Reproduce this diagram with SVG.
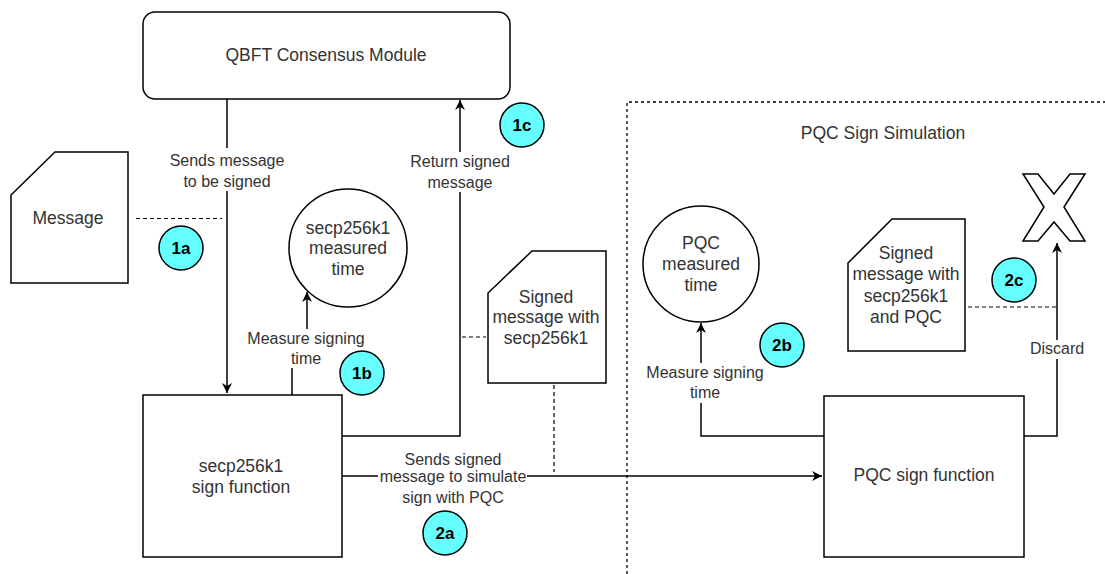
<svg xmlns="http://www.w3.org/2000/svg" width="1105" height="574" viewBox="0 0 1105 574">
  <defs>
    <marker id="arrow" markerUnits="userSpaceOnUse" markerWidth="12" markerHeight="10" refX="10" refY="5" orient="auto">
      <path d="M0,0 L10,5 L0,10 L3,5 z" fill="#000"/>
    </marker>
    <style>
      .shape { fill: #fff; stroke: #000; stroke-width: 1.5; }
      .edge { fill: none; stroke: #000; stroke-width: 1.5; }
      .dash { fill: none; stroke: #000; stroke-width: 1.2; stroke-dasharray: 4 3; }
      .group { fill: none; stroke: #000; stroke-width: 1.3; stroke-dasharray: 3 3; }
      .node { font-family: "Liberation Sans", Arial, sans-serif; font-size: 17.5px; fill: #333; text-anchor: middle; }
      .lbl { font-family: "Liberation Sans", Arial, sans-serif; font-size: 16px; fill: #333; text-anchor: middle; }
      .step circle { fill: #66ffff; stroke: #000; stroke-width: 1.5; }
      .step text { font-family: "Liberation Sans", Arial, sans-serif; font-size: 17px; font-weight: bold; fill: #000; text-anchor: middle; }
    </style>
  </defs>

  <rect width="1105" height="574" fill="#fff"/>

  <!-- PQC simulation container -->
  <g id="pqc-group">
    <path class="group" d="M627,574 V102 H1105"/>
    <text class="node" x="883" y="139">PQC Sign Simulation</text>
  </g>

  <!-- connectors -->
  <g id="connectors">
    <!-- QBFT -> secp256k1 sign -->
    <path class="edge" d="M227,99 V148"/>
    <path class="edge" d="M227,191 V393" marker-end="url(#arrow)"/>
    <text class="lbl" x="227" y="166">Sends message</text>
    <text class="lbl" x="227" y="187">to be signed</text>

    <!-- secp256k1 sign -> measured time -->
    <path class="edge" d="M292,395 V368"/>
    <path class="edge" d="M307,329 V292" marker-end="url(#arrow)"/>
    <text class="lbl" x="306" y="344">Measure signing</text>
    <text class="lbl" x="306" y="364">time</text>

    <!-- secp256k1 sign -> QBFT (return) -->
    <path class="edge" d="M342,436 H460 V192"/>
    <path class="edge" d="M460,152 V100" marker-end="url(#arrow)"/>
    <text class="lbl" x="460" y="167">Return signed</text>
    <text class="lbl" x="460" y="188">message</text>

    <!-- secp256k1 sign -> PQC sign -->
    <path class="edge" d="M342,476 H378"/>
    <path class="edge" d="M527,476 H822" marker-end="url(#arrow)"/>
    <text class="lbl" x="453" y="465">Sends signed</text>
    <text class="lbl" x="453" y="482">message to simulate</text>
    <text class="lbl" x="453" y="503">sign with PQC</text>

    <!-- PQC sign -> PQC measured time -->
    <path class="edge" d="M824,436 H701 V403"/>
    <path class="edge" d="M701,363 V323" marker-end="url(#arrow)"/>
    <text class="lbl" x="705" y="378">Measure signing</text>
    <text class="lbl" x="705" y="398">time</text>

    <!-- PQC sign -> discard -->
    <path class="edge" d="M1024,436 H1057 V359"/>
    <path class="edge" d="M1057,340 V243" marker-end="url(#arrow)"/>
    <text class="lbl" x="1057" y="354">Discard</text>

    <!-- annotation links -->
    <path class="dash" d="M136,218.5 H222"/>
    <path class="dash" d="M462,337 H486"/>
    <path class="dash" d="M554,385 V472"/>
    <path class="dash" d="M968,307 H1056"/>
  </g>

  <g id="qbft">
    <rect class="shape" x="143" y="12" width="367" height="87" rx="12"/>
    <text class="node" x="326" y="61">QBFT Consensus Module</text>
  </g>

  <g id="message">
    <path class="shape" d="M55,152 H128 V283 H11 V195 z"/>
    <text class="node" x="68" y="224">Message</text>
  </g>

  <g id="secp-sign">
    <rect class="shape" x="143" y="395" width="199" height="162"/>
    <text class="node" x="241" y="472">secp256k1</text>
    <text class="node" x="241" y="493">sign function</text>
  </g>

  <g id="secp-time">
    <circle class="shape" cx="348" cy="248" r="59"/>
    <text class="node" x="348" y="234">secp256k1</text>
    <text class="node" x="348" y="254">measured</text>
    <text class="node" x="348" y="275">time</text>
  </g>

  <g id="signed-secp">
    <path class="shape" d="M532,251 H606 V383 H488 V293 z"/>
    <text class="node" x="546" y="303">Signed</text>
    <text class="node" x="546" y="323">message with</text>
    <text class="node" x="546" y="344">secp256k1</text>
  </g>

  <g id="pqc-time">
    <circle class="shape" cx="701" cy="264" r="58"/>
    <text class="node" x="701" y="249">PQC</text>
    <text class="node" x="701" y="270">measured</text>
    <text class="node" x="701" y="291">time</text>
  </g>

  <g id="signed-pqc">
    <path class="shape" d="M892,219 H965 V351 H848 V263 z"/>
    <text class="node" x="906" y="259">Signed</text>
    <text class="node" x="906" y="280">message with</text>
    <text class="node" x="906" y="302">secp256k1</text>
    <text class="node" x="906" y="323">and PQC</text>
  </g>

  <g id="pqc-sign">
    <rect class="shape" x="824" y="396" width="200" height="161"/>
    <text class="node" x="924" y="481">PQC sign function</text>
  </g>

  <g id="discard-x">
    <path class="shape" d="M1023,174 H1038 L1054,194 L1070,174 H1085 L1064,207 L1085,241 H1070 L1054,222 L1038,241 H1023 L1044,207 z"/>
  </g>

  <!-- numbered step markers -->
  <g id="step-1a" class="step"><circle cx="181" cy="248" r="22"/><text x="181" y="254">1a</text></g>
  <g id="step-1b" class="step"><circle cx="362" cy="373" r="22"/><text x="362" y="379">1b</text></g>
  <g id="step-1c" class="step"><circle cx="522" cy="125" r="22"/><text x="522" y="131">1c</text></g>
  <g id="step-2a" class="step"><circle cx="445" cy="533" r="22"/><text x="445" y="539">2a</text></g>
  <g id="step-2b" class="step"><circle cx="782" cy="345" r="22"/><text x="782" y="351">2b</text></g>
  <g id="step-2c" class="step"><circle cx="1014" cy="280" r="22"/><text x="1014" y="286">2c</text></g>
</svg>
